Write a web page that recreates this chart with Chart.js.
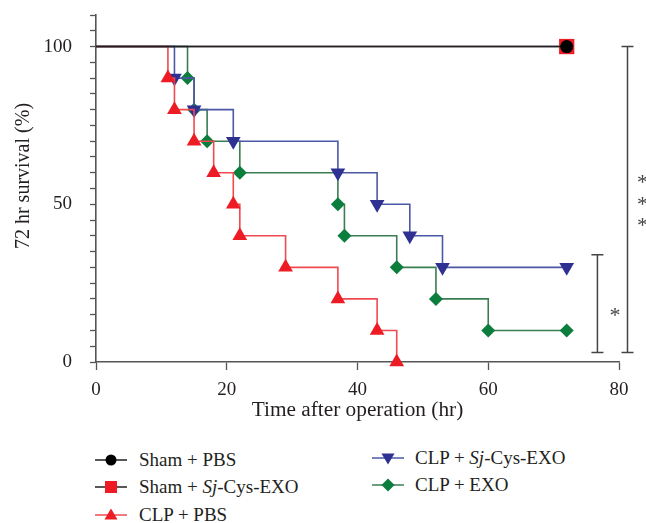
<!DOCTYPE html>
<html>
<head>
<meta charset="utf-8">
<script src="https://cdn.jsdelivr.net/npm/chart.js@4"></script>
<style>
  html, body { margin: 0; padding: 0; background: #fff; overflow: hidden; }
  #wrap { position: relative; width: 646px; height: 523px; }
  #myChart { position: absolute; left: 0; top: 0; }
  .leg { position: absolute; font-family: "Liberation Serif", "Times New Roman", serif; font-size: 19px; color: #231f20; white-space: nowrap; line-height: 22px; }
  .leg svg { position: absolute; left: 0; top: 3px; }
  .leg span { position: absolute; left: 44px; top: 0; }
</style>
</head>
<body>
<div id="wrap">
  <canvas id="myChart" width="646" height="430"></canvas>
  <div class="leg" style="left:95px;top:449px">
    <svg width="34" height="16"><line x1="0" y1="8" x2="32" y2="8" stroke="#231f20" stroke-width="1.5"/><circle cx="16" cy="8" r="5.5" fill="#000"/></svg>
    <span>Sham + PBS</span>
  </div>
  <div class="leg" style="left:95px;top:476px">
    <svg width="34" height="16"><line x1="0" y1="8" x2="32" y2="8" stroke="#231f20" stroke-width="1.5"/><rect x="10" y="2" width="12" height="12" fill="#ed1c24"/></svg>
    <span>Sham + <i>Sj</i>-Cys-EXO</span>
  </div>
  <div class="leg" style="left:95px;top:504px">
    <svg width="34" height="16"><line x1="0" y1="8" x2="32" y2="8" stroke="#f04a50" stroke-width="1.5"/><polygon points="16,1.5 22.5,12.5 9.5,12.5" fill="#ed1c24"/></svg>
    <span>CLP + PBS</span>
  </div>
  <div class="leg" style="left:372px;top:447px">
    <svg width="34" height="16"><line x1="0" y1="8" x2="32" y2="8" stroke="#4b58a6" stroke-width="1.5"/><polygon points="9.5,3.5 22.5,3.5 16,14.5" fill="#2e3192"/></svg>
    <span style="left:43px">CLP + <i>Sj</i>-Cys-EXO</span>
  </div>
  <div class="leg" style="left:372px;top:474px">
    <svg width="34" height="16"><line x1="0" y1="8" x2="32" y2="8" stroke="#3b7d52" stroke-width="1.5"/><polygon points="16,1.5 22.5,8 16,14.5 9.5,8" fill="#0b7d3c"/></svg>
    <span style="left:43px">CLP + EXO</span>
  </div>
</div>
<script>
        // time (hr) and survival (%) for each group
        const shamPbsTime = [0, 72];
        const shamPbsSurv = [100, 100];
        const shamSjTime = [0, 72];
        const shamSjSurv = [100, 100];
        const clpPbsTime = [0, 11, 12, 15, 18, 21, 22, 29, 37, 43, 46];
        const clpPbsSurv = [100, 90, 80, 70, 60, 50, 40, 30, 20, 10, 0];
        const clpSjTime = [0, 12, 15, 21, 37, 43, 48, 53, 72];
        const clpSjSurv = [100, 90, 80, 70, 60, 50, 40, 30, 30];
        const clpExoTime = [0, 14, 15, 17, 22, 37, 38, 46, 52, 60, 72];
        const clpExoSurv = [100, 90, 80, 70, 60, 50, 40, 30, 20, 10, 10];

        const xTicks = [0, 20, 40, 60, 80];
        const yLabels = [0, 50, 100];

        // significance brackets (x in hr, from / to in %)
        const sigX = [76.7, 81.3];
        const sigFrom = [3, 3];
        const sigTo = [34, 100];
        const sigTextX = [79.4, 83.6];
        const sigTextY = [16, 51.3];
        const sigStars = [1, 3];

        const serif = '"Liberation Serif", "Times New Roman", serif';
        const axisColor = '#555';

        function toPoints(t, s) {
          return t.map((v, i) => ({ x: v, y: s[i] }));
        }
        function radii(t, r) {
          return t.map((v, i) => i === 0 ? 0 : r);
        }

        const sigPlugin = {
          id: 'sigBrackets',
          afterDraw(chart) {
            const ctx = chart.ctx;
            const x = chart.scales.x, y = chart.scales.y;
            ctx.save();
            ctx.strokeStyle = '#444';
            ctx.lineWidth = 1.5;
            for (let i = 0; i < sigX.length; i++) {
              const px = x.getPixelForValue(sigX[i]);
              const y1 = y.getPixelForValue(sigTo[i]);
              const y2 = y.getPixelForValue(sigFrom[i]);
              ctx.beginPath();
              ctx.moveTo(px, y1); ctx.lineTo(px, y2);
              ctx.moveTo(px - 6, y1); ctx.lineTo(px + 6, y1);
              ctx.moveTo(px - 6, y2); ctx.lineTo(px + 6, y2);
              ctx.stroke();
            }
            ctx.fillStyle = '#444';
            ctx.font = '22px ' + serif;
            ctx.textAlign = 'center';
            ctx.textBaseline = 'middle';
            for (let i = 0; i < sigTextX.length; i++) {
              const px = x.getPixelForValue(sigTextX[i]);
              const py = y.getPixelForValue(sigTextY[i]);
              const n = sigStars[i];
              for (let k = 0; k < n; k++) {
                ctx.fillText('*', px, py + (k - (n - 1) / 2) * 21.5 + 5);
              }
            }
            ctx.restore();
          }
        };

        const data = {
          datasets: [
            {
              label: 'Sham + PBS',
              data: toPoints(shamPbsTime, shamPbsSurv),
              borderColor: '#231f20',
              backgroundColor: '#000',
              pointRadius: radii(shamPbsTime, 6.5),
              pointStyle: 'circle'
            },
            {
              label: 'Sham + Sj-Cys-EXO',
              data: toPoints(shamSjTime, shamSjSurv),
              borderColor: '#231f20',
              backgroundColor: '#ed1c24',
              pointRadius: radii(shamSjTime, 10.8),
              pointStyle: 'rect'
            },
            {
              label: 'CLP + PBS',
              data: toPoints(clpPbsTime, clpPbsSurv),
              borderColor: '#f04a50',
              backgroundColor: '#ed1c24',
              pointRadius: radii(clpPbsTime, 8.5),
              pointStyle: 'triangle'
            },
            {
              label: 'CLP + Sj-Cys-EXO',
              data: toPoints(clpSjTime, clpSjSurv),
              borderColor: '#4b58a6',
              backgroundColor: '#2e3192',
              pointRadius: radii(clpSjTime, 8.5),
              pointStyle: 'triangle',
              pointRotation: 180
            },
            {
              label: 'CLP + EXO',
              data: toPoints(clpExoTime, clpExoSurv),
              borderColor: '#3b7d52',
              backgroundColor: '#0b7d3c',
              pointRadius: radii(clpExoTime, 7),
              pointStyle: 'rectRot'
            }
          ]
        };
        data.datasets.forEach(ds => {
          ds.stepped = 'before';
          ds.borderWidth = 1.6;
          ds.pointBorderWidth = 0;
          ds.pointHoverRadius = ds.pointRadius;
          ds.clip = false;
          ds.fill = false;
        });

        const config = {
          type: 'line',
          data: data,
          options: {
            responsive: false,
            animation: false,
            events: [],
            layout: { padding: { top: 15, right: 27, left: 0, bottom: 0 } },
            plugins: { legend: { display: false }, tooltip: { enabled: false } },
            scales: {
              x: {
                type: 'linear',
                min: 0, max: 80,
                afterFit: s => { s.height = 68; s.paddingLeft = 0; s.paddingRight = 0; },
                afterBuildTicks: s => { s.ticks = xTicks.map(v => ({ value: v })); },
                border: { color: axisColor, width: 1.6 },
                grid: { drawOnChartArea: false, tickLength: 8, tickColor: axisColor, tickWidth: 1.3 },
                ticks: { color: '#231f20', font: { family: serif, size: 19 }, padding: 9, maxRotation: 0 },
                title: { display: true, text: 'Time after operation (hr)', color: '#231f20', font: { family: serif, size: 21.3 }, padding: { bottom: 7 } }
              },
              y: {
                min: 0, max: 110,
                afterFit: s => { s.width = 96; s.paddingTop = 0; s.paddingBottom = 0; },
                border: { color: axisColor, width: 1.6 },
                grid: { drawOnChartArea: false, tickLength: 6, tickColor: axisColor, tickWidth: 1.3 },
                ticks: {
                  stepSize: 5, autoSkip: false, color: '#231f20', padding: 18,
                  font: { family: serif, size: 19 },
                  callback: v => yLabels.includes(v) ? String(v) : ''
                },
                title: { display: true, text: '     72 hr survival (%)', color: '#231f20', font: { family: serif, size: 20 }, padding: { top: 12 } }
              }
            }
          },
          plugins: [sigPlugin]
        };

        const myChart = new Chart(document.getElementById('myChart'), config);
</script>
</body>
</html>
